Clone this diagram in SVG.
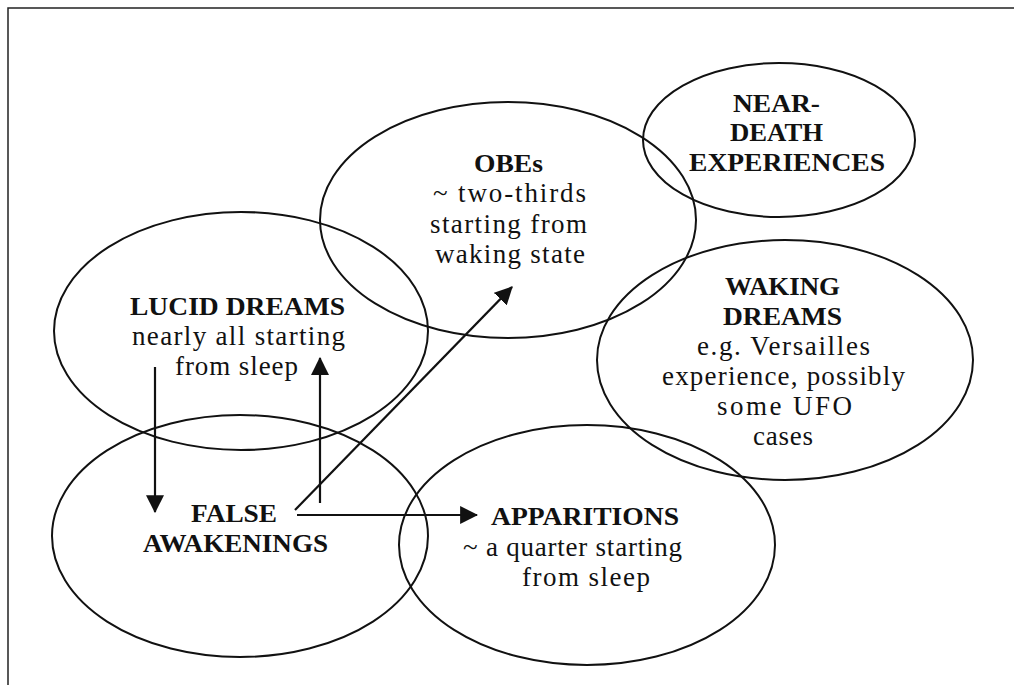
<svg xmlns="http://www.w3.org/2000/svg" width="1014" height="685" viewBox="0 0 1014 685">
<style>
.bg{fill:#fff}
.frame{fill:none;stroke:#222;stroke-width:1.5}
ellipse{fill:none;stroke:#111;stroke-width:2}
.con{stroke:#111;stroke-width:2.2;fill:none}
text{font-family:"Liberation Serif","Times New Roman",serif;font-size:27px;fill:#111;text-anchor:middle}
.t{font-weight:bold;font-size:26px}
</style>
<defs>
<marker id="ah" markerUnits="userSpaceOnUse" markerWidth="18" markerHeight="18" viewBox="0 0 16 16" refX="15" refY="8" orient="auto">
<path d="M0,0 L16,8 L0,16 Z" fill="#111"/>
</marker>
</defs>
<rect class="bg" width="1014" height="685"/>
<path class="frame" d="M8,685 L8,8 L1014,8"/>
<g id="lucid">
<ellipse cx="241" cy="331" rx="187" ry="119"/>
<text class="t" x="237.5" y="315" textLength="215" lengthAdjust="spacingAndGlyphs">LUCID DREAMS</text>
<text x="238.5" y="345" textLength="213" lengthAdjust="spacing">nearly all starting</text>
<text x="236.5" y="375" textLength="123" lengthAdjust="spacing">from sleep</text>
</g>
<g id="false">
<ellipse cx="240" cy="536" rx="188" ry="121"/>
<text class="t" x="234" y="522" textLength="86" lengthAdjust="spacingAndGlyphs">FALSE</text>
<text class="t" x="235.5" y="552" textLength="185" lengthAdjust="spacingAndGlyphs">AWAKENINGS</text>
</g>
<g id="obes">
<ellipse cx="508" cy="220" rx="188" ry="118"/>
<text class="t" x="508.5" y="172" textLength="69" lengthAdjust="spacingAndGlyphs">OBEs</text>
<text x="509.5" y="202" textLength="153" lengthAdjust="spacing">~ two-thirds</text>
<text x="508.5" y="233" textLength="157" lengthAdjust="spacing">starting from</text>
<text x="510" y="263" textLength="150" lengthAdjust="spacing">waking state</text>
</g>
<g id="nde">
<ellipse cx="779" cy="140" rx="136" ry="77"/>
<text class="t" x="776.5" y="112" textLength="87" lengthAdjust="spacingAndGlyphs">NEAR-</text>
<text class="t" x="776.5" y="141" textLength="93" lengthAdjust="spacingAndGlyphs">DEATH</text>
<text class="t" x="787" y="171" textLength="196" lengthAdjust="spacingAndGlyphs">EXPERIENCES</text>
</g>
<g id="waking">
<ellipse cx="785" cy="360" rx="188" ry="120"/>
<text class="t" x="782.5" y="295" textLength="115" lengthAdjust="spacingAndGlyphs">WAKING</text>
<text class="t" x="782.5" y="325" textLength="119" lengthAdjust="spacingAndGlyphs">DREAMS</text>
<text x="783.5" y="355" textLength="173" lengthAdjust="spacing">e.g. Versailles</text>
<text x="783.5" y="385" textLength="243" lengthAdjust="spacing">experience, possibly</text>
<text x="784.5" y="415" textLength="135" lengthAdjust="spacing">some UFO</text>
<text x="783" y="445" textLength="60" lengthAdjust="spacing">cases</text>
</g>
<g id="apparitions">
<ellipse cx="587" cy="545" rx="188" ry="120"/>
<text class="t" x="585" y="525" textLength="188" lengthAdjust="spacingAndGlyphs">APPARITIONS</text>
<text x="572.5" y="556" textLength="219" lengthAdjust="spacing">~ a quarter starting</text>
<text x="586" y="586" textLength="128" lengthAdjust="spacing">from sleep</text>
</g>
<g id="connectors">
<line class="con" x1="155" y1="367" x2="155" y2="512" marker-end="url(#ah)"/>
<line class="con" x1="320" y1="503" x2="320" y2="358" marker-end="url(#ah)"/>
<line class="con" x1="295" y1="510" x2="512" y2="287" marker-end="url(#ah)"/>
<line class="con" x1="297" y1="515" x2="477" y2="515" marker-end="url(#ah)"/>
</g>
</svg>
